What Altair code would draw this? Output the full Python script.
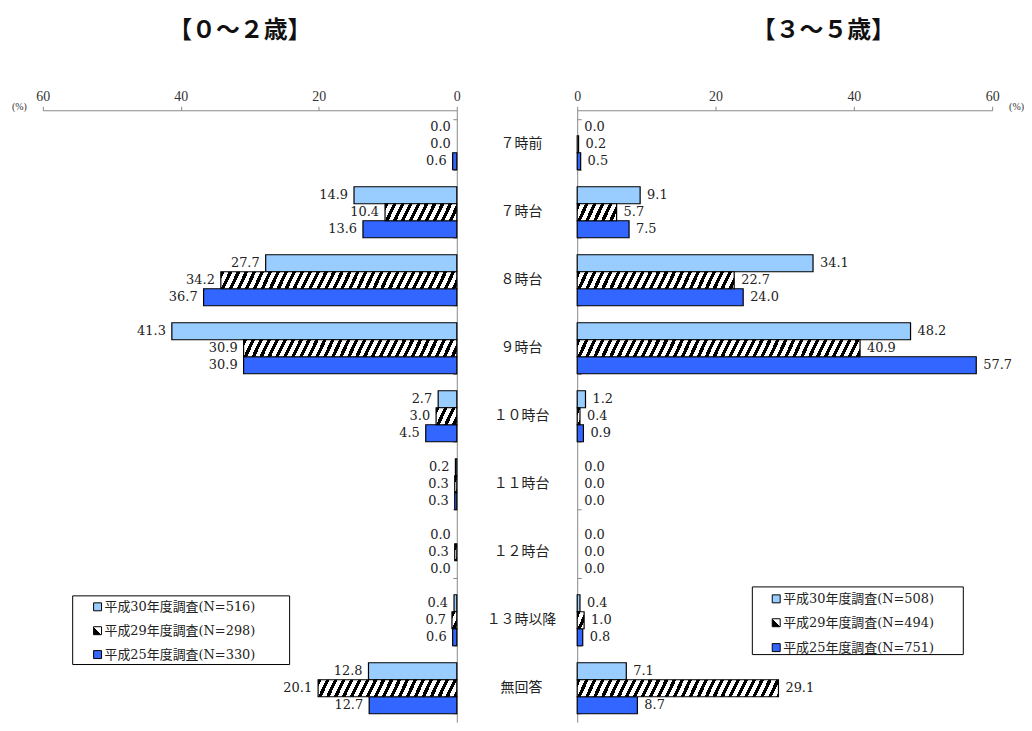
import altair as alt
import pandas as pd

# ---------------- data ----------------
categories = ["７時前", "７時台", "８時台", "９時台", "１０時台", "１１時台", "１２時台", "１３時以降", "無回答"]
series_names = ["平成30年度調査", "平成29年度調査", "平成25年度調査"]

left_h30 = [0.0, 14.9, 27.7, 41.3, 2.7, 0.2, 0.0, 0.4, 12.8]
left_h29 = [0.0, 10.4, 34.2, 30.9, 3.0, 0.3, 0.3, 0.7, 20.1]
left_h25 = [0.6, 13.6, 36.7, 30.9, 4.5, 0.3, 0.0, 0.6, 12.7]
left_n = [516, 298, 330]

right_h30 = [0.0, 9.1, 34.1, 48.2, 1.2, 0.0, 0.0, 0.4, 7.1]
right_h29 = [0.2, 5.7, 22.7, 40.9, 0.4, 0.0, 0.0, 1.0, 29.1]
right_h25 = [0.5, 7.5, 24.0, 57.7, 0.9, 0.0, 0.0, 0.8, 8.7]
right_n = [508, 494, 751]

left_title = "【０～２歳】"
right_title = "【３～５歳】"
x_ticks = [0, 20, 40, 60]
x_max = 60

# ---------------- styles ----------------
LIGHT = "#99CCFF"
BLUE = "#3366FF"
SERIF = "Liberation Serif, Noto Sans CJK JP"
NUMFONT = "DejaVu Serif, Noto Sans CJK JP"
GOTHIC = "Noto Sans CJK JP"
AXIS_GRAY = "#888888"

W_L, W_M, W_R, H = 416, 121, 417, 615
BAR_H = H / 9 * 0.75 / 3


def hatch(width_px, height_px, period=8.0, slope=2.1, black_frac=0.45):
    r = slope
    smax = r * width_px + height_px
    k = smax / (r * r * width_px * width_px + height_px * height_px)
    x2 = k * r * width_px
    y2 = k * height_px
    ps = r * period
    stops = []
    i = 0
    while i * ps < smax:
        a = i * ps / smax
        b = min((i * ps + black_frac * ps) / smax, 1.0)
        c = min((i + 1) * ps / smax, 1.0)
        stops += [(a, "black"), (b, "black"), (b, "white"), (c, "white")]
        i += 1
    return alt.LinearGradient(
        gradient="linear", x1=0, y1=0, x2=x2, y2=y2,
        stops=[alt.GradientStop(offset=o, color=col) for o, col in stops],
    )


def panel(vals, side, title, ns, legend_box, legend_rows, sym_x, text_x, title_dx):
    left = side == "left"
    W = W_L if left else W_R
    rows = []
    for s, arr in zip(series_names, vals):
        for c, v in zip(categories, arr):
            rows.append({"category": c, "series": s, "value": v})
    df = pd.DataFrame(rows)

    xenc = alt.X(
        "value:Q",
        scale=alt.Scale(domain=[0, x_max], reverse=left, nice=False, zero=True),
        axis=alt.Axis(
            orient="top", values=x_ticks, grid=False, domainColor=AXIS_GRAY,
            tickColor=AXIS_GRAY, tickSize=4, labelFont=SERIF, labelFontSize=14,
            labelColor="#333333", labelPadding=3, labelFlush=False, labelOverlap=False,
            title="(%)", titleFont=SERIF,
            titleFontSize=10, titleFontWeight="normal", titleColor="#333333",
            titleX=(-24 if left else W + 24), titleY=-4, titleBaseline="middle",
            titleAlign="center", titleAngle=0,
        ),
    )
    yenc = alt.Y(
        "category:N",
        sort=categories,
        scale=alt.Scale(domain=categories, paddingInner=0.25, paddingOuter=0.125),
        axis=alt.Axis(
            orient=("left" if left else "right"), offset=-W, labels=False,
            ticks=True, tickBand="extent", tickSize=4, tickColor=AXIS_GRAY,
            domain=True, domainColor=AXIS_GRAY, title=None, grid=False,
        ),
    )
    yoff = alt.YOffset(
        "series:N", sort=series_names,
        scale=alt.Scale(domain=series_names, paddingInner=0, paddingOuter=0),
    )

    plain_df = df[(df.series != series_names[1]) & (df.value > 0)]
    plain = alt.Chart(plain_df).mark_bar(stroke="black", strokeWidth=1.2).encode(
        x=xenc, y=yenc, yOffset=yoff,
        fill=alt.Fill("series:N", scale=alt.Scale(domain=series_names, range=[LIGHT, "white", BLUE]), legend=None),
    )
    layers = [plain]

    hatched_df = df[(df.series == series_names[1]) & (df.value > 0)]
    for _, row in hatched_df.iterrows():
        wpx = row["value"] * W / x_max
        fill = hatch(wpx, BAR_H) if wpx >= 2 else "white"
        layers.append(
            alt.Chart(pd.DataFrame([row])).mark_bar(fill=fill, stroke="black", strokeWidth=1.2).encode(
                x=xenc, y=yenc, yOffset=yoff
            )
        )

    labels = alt.Chart(df).mark_text(
        align=("right" if left else "left"), dx=(-6 if left else 7), baseline="middle",
        font=NUMFONT, fontSize=13, color="#222222",
    ).encode(x=xenc, y=yenc, yOffset=yoff, text=alt.Text("value:Q", format=".1f"))
    layers.append(labels)

    # legend (manual, so the hatched swatch can be drawn)
    bx0, bx1, by0, by1 = legend_box
    one = pd.DataFrame({"k": [0]})
    layers.append(
        alt.Chart(one).mark_rect(fill="white", stroke="black", strokeWidth=1).encode(
            x=alt.value(bx0), x2=alt.value(bx1), y=alt.value(by0), y2=alt.value(by1)
        )
    )
    sym_fills = [LIGHT, alt.LinearGradient(
        gradient="linear", x1=0, y1=1, x2=1, y2=0,
        stops=[alt.GradientStop(offset=0, color="black"), alt.GradientStop(offset=0.5, color="black"),
               alt.GradientStop(offset=0.5, color="white"), alt.GradientStop(offset=1, color="white")],
    ), BLUE]
    for s, n, ry, sf in zip(series_names, ns, legend_rows, sym_fills):
        layers.append(
            alt.Chart(one).mark_rect(fill=sf, stroke="black", strokeWidth=1).encode(
                x=alt.value(sym_x - 4), x2=alt.value(sym_x + 4), y=alt.value(ry - 4), y2=alt.value(ry + 4)
            )
        )
        layers.append(
            alt.Chart(one).mark_text(align="left", baseline="middle", font=NUMFONT, fontSize=13, color="#222222").encode(
                x=alt.value(text_x), y=alt.value(ry), text=alt.value(f"{s}(N={n})")
            )
        )

    return alt.layer(*layers).properties(
        width=W, height=H,
        title=alt.TitleParams(title, font=GOTHIC, fontSize=24, fontWeight="bold", color="#111111",
                              anchor="middle", dx=title_dx, offset=47),
    )


left_chart = panel([left_h30, left_h29, left_h25], "left", left_title, left_n,
                   (30, 248, 488, 557), [499, 523, 547], 55, 62, -10)
right_chart = panel([right_h30, right_h29, right_h25], "right", right_title, right_n,
                    (176, 388, 479, 547), [491, 515, 540], 200, 207, 39)

mid_df = pd.DataFrame({"category": categories})
middle = alt.Chart(mid_df).mark_text(font=SERIF, fontSize=14, color="#222222", baseline="middle").encode(
    y=alt.Y("category:N", sort=categories,
            scale=alt.Scale(domain=categories, paddingInner=0.25, paddingOuter=0.125), axis=None),
    x=alt.value(65),
    text="category:N",
).properties(width=W_M, height=H)

chart = alt.hconcat(left_chart, middle, right_chart, spacing=0, bounds="flush").resolve_scale(
    y="independent"
).configure_view(stroke=None).properties(
    padding={"left": 3, "top": 9, "right": 0, "bottom": 0}
)

chart.save("out.html", embed_options={"renderer": "svg", "actions": False})
